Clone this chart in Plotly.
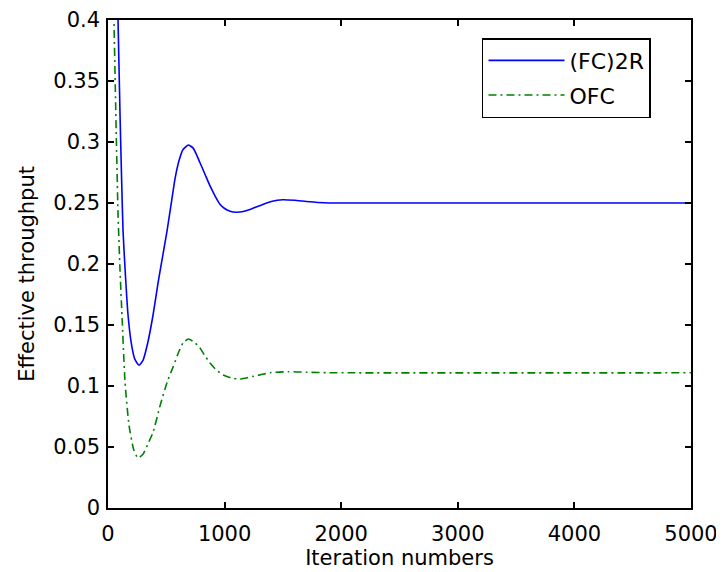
import plotly.graph_objects as go

# (FC)2R series
fc2r_iter = [70, 86, 103, 116, 129, 150, 172, 200, 230, 266, 300, 340, 386, 430, 470, 506, 546,
             575, 610, 645, 689, 730, 760, 789, 830, 875, 920, 960, 1000, 1046, 1100, 1160, 1218,
             1300, 1400, 1500, 1600, 1700, 1800, 1900, 2000, 5000]
fc2r_vals = [0.472, 0.40, 0.323, 0.272, 0.227, 0.19, 0.158, 0.135, 0.122, 0.117, 0.121, 0.135,
             0.158, 0.185, 0.207, 0.227, 0.252, 0.270, 0.285, 0.294, 0.2975, 0.295, 0.2895, 0.283,
             0.274, 0.264, 0.2555, 0.249, 0.2455, 0.2433, 0.2424, 0.243, 0.2447, 0.2478, 0.2512,
             0.2527, 0.2522, 0.2512, 0.2504, 0.2500, 0.25, 0.25]

# OFC series
ofc_iter = [30, 51, 70, 86, 103, 120, 146, 180, 220, 257, 300, 340, 386, 450, 510, 560, 603,
            646, 689, 740, 789, 830, 875, 930, 989, 1060, 1132, 1250, 1400, 1544, 1700, 1900,
            2100, 5000]
ofc_vals = [0.495, 0.40, 0.31, 0.241, 0.195, 0.158, 0.103, 0.068, 0.048, 0.041, 0.044, 0.052,
            0.062, 0.085, 0.104, 0.116, 0.127, 0.1357, 0.1385, 0.136, 0.1311, 0.125, 0.1188,
            0.113, 0.109, 0.1065, 0.1057, 0.108, 0.111, 0.1117, 0.1113, 0.1109, 0.1108, 0.1108]

x_ticks = [0, 1000, 2000, 3000, 4000, 5000]
x_ticklabels = ["0", "1000", "2000", "3000", "4000", "5000"]
y_ticks = [0, 0.05, 0.1, 0.15, 0.2, 0.25, 0.3, 0.35, 0.4]
y_ticklabels = ["0", "0.05", "0.1", "0.15", "0.2", "0.25", "0.3", "0.35", "0.4"]

FONT = "DejaVu Sans, Liberation Sans, sans-serif"
FS = 21

fig = go.Figure()
fig.add_trace(go.Scatter(x=fc2r_iter, y=fc2r_vals, mode="lines", name="(FC)2R",
                         legendgroup="a",
                         line=dict(color="#0000ff", width=1.6, shape="spline", smoothing=0.5)))
fig.add_trace(go.Scatter(x=ofc_iter, y=ofc_vals, mode="lines", name="OFC",
                         legendgroup="b",
                         line=dict(color="#008000", width=1.6, dash="8px,4px,2px,4px",
                                   shape="spline", smoothing=0.5)))

axis_common = dict(showgrid=False, zeroline=False, showline=True, linecolor="black",
                   linewidth=1.5, mirror="allticks", ticks="inside", ticklen=6,
                   tickcolor="black", tickwidth=1.5, automargin=False,
                   tickfont=dict(family=FONT, size=FS, color="black"))

fig.update_layout(
    width=716, height=564,
    margin=dict(l=100, r=33, t=12, b=64),
    paper_bgcolor="white", plot_bgcolor="white",
    font=dict(family=FONT, size=FS, color="black"),
    xaxis=dict(range=[0, 5000], tickvals=x_ticks, ticktext=x_ticklabels,
               ticklabelstandoff=6,
               title=dict(text="Iteration numbers", standoff=2,
                          font=dict(family=FONT, size=FS)),
               **axis_common),
    yaxis=dict(range=[0, 0.4], tickvals=y_ticks, ticktext=y_ticklabels,
               ticklabelstandoff=2,
               **axis_common),
    annotations=[dict(text="Effective throughput", textangle=-90,
                      xref="paper", yref="paper", x=-0.139, y=0.48,
                      xanchor="center", yanchor="middle", showarrow=False,
                      font=dict(family=FONT, size=FS, color="black"))],
    legend=dict(x=0.6415, y=0.963, xanchor="left", yanchor="top",
                bgcolor="white", bordercolor="black", borderwidth=1.5,
                traceorder="grouped", tracegroupgap=3, itemwidth=76,
                font=dict(family=FONT, size=22, color="black")),
    showlegend=True,
)

fig.write_html("out.html")
